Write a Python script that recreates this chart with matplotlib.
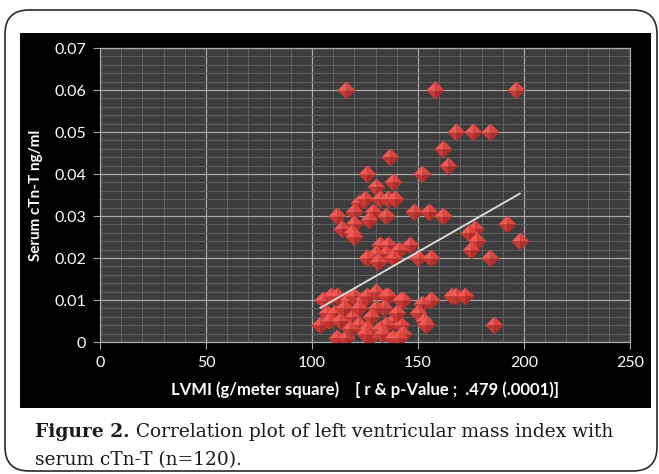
import numpy as np
import matplotlib
matplotlib.use("Agg")
import matplotlib.pyplot as plt
from matplotlib.patches import FancyBboxPatch, Rectangle
from matplotlib.path import Path

# ---------------- data ----------------
lvmi = [116, 158, 196, 168, 176, 184, 162, 164, 137, 126, 152, 130, 138,
        122, 125, 132, 136, 139, 112, 120, 129, 127, 135, 148, 155, 162,
        114, 120, 119, 192, 177, 174, 178, 198, 175, 184, 120, 132, 136,
        146, 141, 135, 130, 126, 131, 138, 150, 156,
        105, 109, 112, 117, 120, 124, 126, 130, 135, 136, 142, 143, 156,
        166, 168, 172, 152, 150, 134, 130, 107, 111, 119, 128, 138, 104,
        108, 113, 122, 135, 142, 153, 154, 186, 126, 132, 133, 143, 112,
        116, 127, 138, 141, 125, 118, 115, 122, 140]
ctnt = [0.060, 0.060, 0.060, 0.050, 0.050, 0.050, 0.046, 0.042, 0.044,
        0.040, 0.040, 0.037, 0.038, 0.033, 0.034, 0.034, 0.034, 0.034,
        0.030, 0.031, 0.031, 0.029, 0.030, 0.031, 0.031, 0.030, 0.027,
        0.028, 0.026, 0.028, 0.027, 0.026, 0.024, 0.024, 0.022, 0.020,
        0.025, 0.023, 0.023, 0.023, 0.022, 0.021, 0.021, 0.020, 0.019,
        0.020, 0.020, 0.020,
        0.010, 0.011, 0.011, 0.010, 0.011, 0.010, 0.011, 0.012, 0.011,
        0.011, 0.010, 0.010, 0.010, 0.011, 0.011, 0.011, 0.009, 0.007,
        0.008, 0.008, 0.007, 0.007, 0.006, 0.006, 0.005, 0.004, 0.005,
        0.005, 0.004, 0.004, 0.004, 0.005, 0.004, 0.004, 0.003, 0.003,
        0.002, 0.002, 0.001, 0.001, 0.001, 0.001, 0.001, 0.002, 0.003,
        0.008, 0.008, 0.007]

trend_slope = 0.000289
trend_intercept = -0.0219

x_ticks = [0, 50, 100, 150, 200, 250]
y_ticks = [0, 0.01, 0.02, 0.03, 0.04, 0.05, 0.06, 0.07]
y_tick_labels = ["0", "0.01", "0.02", "0.03", "0.04", "0.05", "0.06", "0.07"]
x_label = "LVMI (g/meter square)    [ r & p-Value ;  .479 (.0001)]"
y_label = "Serum cTn-T ng/ml"
caption_bold = "Figure 2."
caption_line1 = " Correlation plot of left ventricular mass index with"
caption_line2 = "serum cTn-T (n=120)."

# ---------------- figure ----------------
W, H = 659, 474
fig = plt.figure(figsize=(W / 100, H / 100), dpi=100)
fig.patch.set_facecolor("white")

bg = fig.add_axes([0, 0, 1, 1], zorder=0)
bg.set_xlim(0, W)
bg.set_ylim(H, 0)
bg.axis("off")
bg.add_patch(FancyBboxPatch((5, 10), 652, 461,
                            boxstyle="round,pad=0,rounding_size=24",
                            fc="white", ec="#2a2a2a", lw=1.2))
bg.add_patch(Rectangle((20, 33), 631, 375, fc="black", ec="none"))

ax = fig.add_axes([100 / W, 1 - 342 / H, 530 / W, 294 / H], zorder=2)
ax.set_facecolor("#3d3d3d")
ax.set_xlim(0, 250)
ax.set_ylim(0, 0.07)
ax.set_xticks(x_ticks)
ax.set_xticklabels([str(t) for t in x_ticks])
ax.set_yticks(y_ticks)
ax.set_yticklabels(y_tick_labels)
ax.set_xticks(np.arange(0, 251, 10), minor=True)
ax.set_yticks(np.arange(0, 0.0701, 0.002), minor=True)
ax.grid(which="minor", color="#5e5e5e", lw=0.8)
ax.grid(which="major", color="#a8a8a8", lw=0.9)
ax.set_axisbelow(True)
for s in ax.spines.values():
    s.set_color("#a8a8a8")
    s.set_linewidth(0.9)
ax.tick_params(which="major", direction="out", length=5, color="#a8a8a8",
               labelcolor="white", labelsize=11.5, pad=5)
ax.tick_params(which="minor", length=0)
for lab in ax.get_xticklabels() + ax.get_yticklabels():
    lab.set_family("Lato")

ax.set_xlabel(x_label, color="white", fontsize=12, fontweight="bold",
              family="Lato", labelpad=8)
ax.set_ylabel(y_label, color="white", fontsize=11, fontweight="bold",
              family="Lato", labelpad=8)

# pyramid-like diamond markers (four facets)
facets = [
    ([(0, 0), (-1, 0), (0, 1), (0, 0)], "#ee5a56"),
    ([(0, 0), (0, 1), (1, 0), (0, 0)], "#e0443f"),
    ([(0, 0), (0, -1), (-1, 0), (0, 0)], "#c93733"),
    ([(0, 0), (1, 0), (0, -1), (0, 0)], "#b02d2a"),
]
facet_paths = [(Path(v, closed=True), c) for v, c in facets]
ms = 13
for xv, yv in zip(lvmi, ctnt):
    for p, c in facet_paths:
        ax.scatter([xv], [yv], marker=p, s=ms ** 2, c=c, linewidths=0,
                   zorder=3)

# linear trend line
xa = np.array(lvmi, dtype=float)
xt = np.array([xa.min(), xa.max()])
ax.plot(xt, trend_slope * xt + trend_intercept, color="#d8d8d8", lw=1.4,
        zorder=4)

# caption (font size fitted so the first line spans like the original)
cap_family = "DejaVu Serif"
cap_x, cap_y1, cap_y2, cap_right = 35, 437, 465, 612


def draw_caption(fs):
    a = bg.text(cap_x, cap_y1, caption_bold, family=cap_family,
                fontweight="bold", fontsize=fs, va="baseline",
                color="#1a1a1a")
    fig.canvas.draw()
    bb = a.get_window_extent()
    x_end = bg.transData.inverted().transform((bb.x1, bb.y0))[0]
    b = bg.text(x_end, cap_y1, caption_line1, family=cap_family,
                fontsize=fs, va="baseline", color="#1a1a1a")
    c = bg.text(cap_x, cap_y2, caption_line2, family=cap_family,
                fontsize=fs, va="baseline", color="#1a1a1a")
    fig.canvas.draw()
    bb2 = b.get_window_extent()
    right = bg.transData.inverted().transform((bb2.x1, bb2.y0))[0]
    return (a, b, c), right


fs0 = 12.0
arts, right = draw_caption(fs0)
fs = fs0 * (cap_right - cap_x) / (right - cap_x)
for t in arts:
    t.remove()
draw_caption(fs)

fig.savefig("out.png", dpi=100)
